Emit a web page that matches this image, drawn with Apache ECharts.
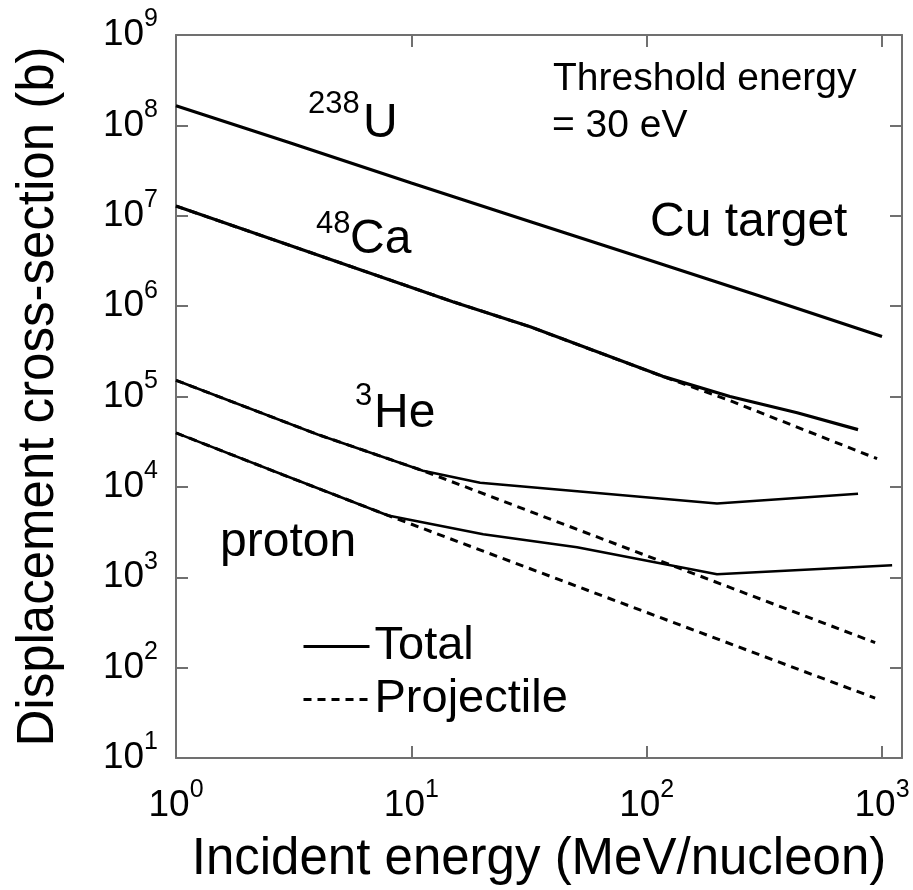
<!DOCTYPE html>
<html><head><meta charset="utf-8">
<script src="https://cdn.jsdelivr.net/npm/echarts@6/dist/echarts.min.js"></script>
<style>html,body{margin:0;padding:0;background:#fff}#c{width:913px;height:890px}</style>
</head><body><div id="c"></div>
<script>
// ---- data ----
const xMin = 1, xMax = 1216;        // MeV/nucleon
const yMin = 10, yMax = 1e9;        // barn
const uEnergy     = [1, 3, 10, 30, 100, 300, 1000];
const uTotal      = [1.65e8, 6.5e7, 2.3e7, 9.1e6, 3.3e6, 1.3e6, 4.6e5];
const caEnergy    = [1, 15, 32, 117, 226, 436, 791];
const caTotal     = [1.28e7, 1.12e6, 5.9e5, 1.67e5, 1.0e5, 6.6e4, 4.3e4];
const caProjEnergy= [1, 15, 32, 117, 226, 953];
const caProj      = [1.28e7, 1.12e6, 5.9e5, 1.67e5, 9.0e4, 2.05e4];
const heEnergy    = [1, 4, 11.2, 19.6, 199, 791];
const heTotal     = [1.51e5, 3.8e4, 1.51e4, 1.11e4, 6.55e3, 8.4e3];
const heProjEnergy= [1, 4, 11.2, 935];
const heProj      = [1.51e5, 3.8e4, 1.51e4, 189];
const pEnergy     = [1, 2.85, 7.96, 20.2, 50.6, 199, 1104];
const pTotal      = [3.96e4, 1.36e4, 4.83e3, 2.99e3, 2.15e3, 1.08e3, 1.36e3];
const pProjEnergy = [1, 2.85, 7.96, 935];
const pProj       = [3.96e4, 1.36e4, 4.83e3, 46];

const FONT = "'Liberation Sans', Arial, Helvetica, sans-serif";
const pairs = (xs, ys) => xs.map((x, i) => [x, ys[i]]);

function powLabel(v) {
  const l = Math.log10(v), e = Math.round(l);
  if (Math.abs(l - e) > 1e-6) return '';
  return '{b|10}{s|' + e + '}';
}
const rich = {
  b: {fontSize: 37, lineHeight: 56, color: '#000', fontFamily: FONT},
  s: {fontSize: 25, lineHeight: 25, color: '#000', fontFamily: FONT, verticalAlign: 'top'}
};
const axisLine = {show: true, lineStyle: {color: '#707070', width: 2}};
const axisTick = {show: true, inside: true, length: 12, lineStyle: {color: '#707070', width: 2}};

function solid(xs, ys, w) {
  return {name: 'Total', type: 'line', data: pairs(xs, ys), symbol: 'none', z: 3,
          lineStyle: {color: '#000', width: w, type: 'solid'}, itemStyle: {color: '#000'}};
}
function dashed(xs, ys) {
  return {name: 'Projectile', type: 'line', data: pairs(xs, ys), symbol: 'none', z: 2,
          lineStyle: {color: '#000', width: 3, type: [8, 6]}, itemStyle: {color: '#000'}};
}

const chart = echarts.init(document.getElementById('c'));
function txt(x, y, text, size) {
  return {type: 'text', x: x, y: y, z: 10,
          style: {text: text, font: size + 'px ' + FONT, fill: '#000', verticalAlign: 'middle', align: 'left'}};
}
chart.setOption({
  animation: false,
  backgroundColor: '#fff',
  grid: {left: 176, top: 35, right: 11, bottom: 128, containLabel: false},
  xAxis: [{
    type: 'log', logBase: 10, min: xMin, max: xMax, interval: 1,
    name: 'Incident energy (MeV/nucleon)', nameLocation: 'middle', nameGap: 76,
    nameTextStyle: {fontSize: 51, color: '#000', fontFamily: FONT},
    axisLine: axisLine, axisTick: axisTick, splitLine: {show: false},
    axisLabel: {formatter: powLabel, rich: rich, margin: 20, showMaxLabel: false}
  }, {
    type: 'log', logBase: 10, min: xMin, max: xMax, interval: 1, position: 'top',
    axisLine: axisLine, axisTick: axisTick, splitLine: {show: false}, axisLabel: {show: false}
  }],
  yAxis: [{
    type: 'log', logBase: 10, min: yMin, max: yMax, interval: 1,
    name: 'Displacement cross-section (b)', nameLocation: 'middle', nameGap: 112,
    nameTextStyle: {fontSize: 51, color: '#000', fontFamily: FONT},
    axisLine: axisLine, axisTick: axisTick, splitLine: {show: false},
    axisLabel: {formatter: powLabel, rich: rich, margin: 18}
  }, {
    type: 'log', logBase: 10, min: yMin, max: yMax, interval: 1, position: 'right',
    axisLine: axisLine, axisTick: axisTick, splitLine: {show: false}, axisLabel: {show: false}
  }],
  legend: {
    data: ['Total', 'Projectile'], orient: 'vertical', left: 302, top: 620,
    itemWidth: 66, itemHeight: 14, itemGap: 0, padding: 0, selectedMode: false,
    itemStyle: {opacity: 0}, lineStyle: {width: 3},
    textStyle: {fontSize: 47, lineHeight: 53, color: '#000', fontFamily: FONT}
  },
  series: [
    dashed(caProjEnergy, caProj),
    dashed(heProjEnergy, heProj),
    dashed(pProjEnergy, pProj),
    solid(uEnergy, uTotal, 3.2),
    solid(caEnergy, caTotal, 3.2),
    solid(heEnergy, heTotal, 2.6),
    solid(pEnergy, pTotal, 2.6)
  ],
  graphic: [
    txt(308, 104, '238', 31), txt(363, 124, 'U', 48),
    txt(316, 224, '48', 31), txt(350, 240, 'Ca', 48),
    txt(355, 396, '3', 31), txt(374, 414, 'He', 48),
    txt(220, 543, 'proton', 48),
    txt(650, 223, 'Cu target', 48),
    txt(553, 79, 'Threshold energy', 39),
    txt(552, 126, '= 30 eV', 39)
  ]
});
</script></body></html>
